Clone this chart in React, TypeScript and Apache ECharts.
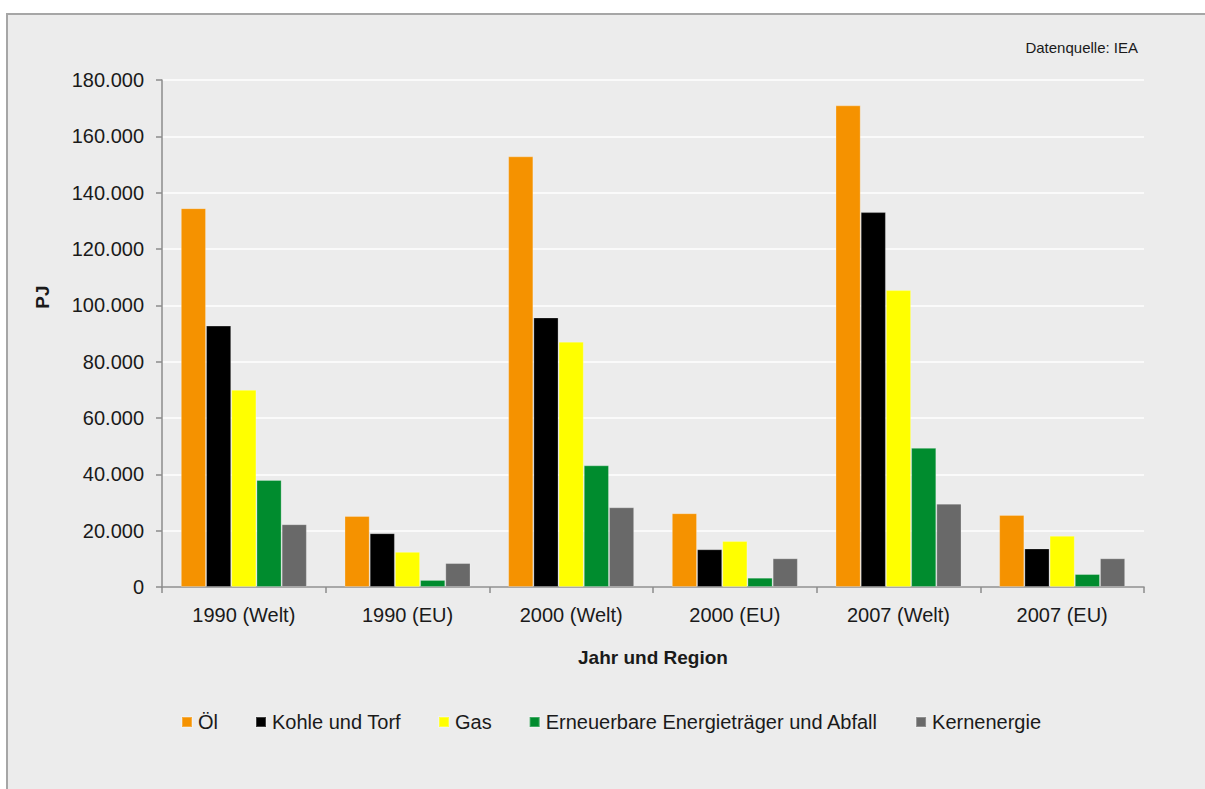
import React, { useEffect, useRef } from "react";
import * as echarts from "echarts";

const categories = ["1990 (Welt)", "1990 (EU)", "2000 (Welt)", "2000 (EU)", "2007 (Welt)", "2007 (EU)"];
const seriesNames = ["Öl", "Kohle und Torf", "Gas", "Erneuerbare Energieträger und Abfall", "Kernenergie"];
const oel = [134500, 25200, 152900, 26200, 171000, 25600];
const kohle = [92800, 19100, 95700, 13400, 133100, 13700];
const gas = [70000, 12500, 87100, 16300, 105400, 18200];
const erneuerbare = [38000, 2500, 43200, 3300, 49400, 4600];
const kern = [22300, 8500, 28300, 10200, 29600, 10200];
const colors = ["#f59200", "#000000", "#ffff00", "#008c2e", "#696969"];
const yTicks = { min: 0, max: 180000, interval: 20000 };

const fmt = (v: number) => (v === 0 ? "0" : v.toLocaleString("de-DE"));

export default function App() {
  const ref = useRef<HTMLDivElement>(null);
  useEffect(() => {
    if (!ref.current) return;
    const chart = echarts.init(ref.current, undefined, { renderer: "svg" });
    const values = [oel, kohle, gas, erneuerbare, kern];
    const font = "'Liberation Sans', Arial, sans-serif";
    chart.setOption({
      animation: false,
      backgroundColor: "transparent",
      textStyle: { fontFamily: font },
      grid: { left: 162, top: 80, right: 61, bottom: 202, containLabel: false },
      legend: {
        left: 181,
        top: 712,
        padding: 0,
        itemWidth: 10,
        itemHeight: 10,
        itemGap: 37,
        icon: "rect",
        textStyle: { fontSize: 20, color: "#1a1a1a", fontFamily: font, padding: [0, 0, 0, 1] },
        data: seriesNames,
      },
      graphic: [
        {
          type: "text",
          x: 42,
          y: 297,
          rotation: Math.PI / 2,
          style: {
            text: "PJ",
            align: "center",
            verticalAlign: "middle",
            font: `bold 19px ${font}`,
            fill: "#1a1a1a",
          },
        },
        {
          type: "text",
          right: 67,
          top: 40,
          style: {
            text: "Datenquelle: IEA",
            font: `15px ${font}`,
            fill: "#1a1a1a",
          },
        },
      ],
      xAxis: {
        type: "category",
        data: categories,
        axisLine: { lineStyle: { color: "#8c8c8c", width: 1.5 } },
        axisTick: { show: true, length: 6, lineStyle: { color: "#8c8c8c", width: 1.5 } },
        axisLabel: { fontSize: 20, color: "#1a1a1a", margin: 18 },
        name: "Jahr und Region",
        nameLocation: "middle",
        nameGap: 61,
        nameTextStyle: { fontSize: 19, fontWeight: "bold", color: "#1a1a1a" },
      },
      yAxis: {
        type: "value",
        min: yTicks.min,
        max: yTicks.max,
        interval: yTicks.interval,
        axisLine: { show: true, lineStyle: { color: "#8c8c8c", width: 1.5 } },
        axisTick: { show: true, length: 6, lineStyle: { color: "#8c8c8c", width: 1.5 } },
        axisLabel: { fontSize: 20, color: "#1a1a1a", margin: 18, formatter: fmt },
        splitLine: { show: true, lineStyle: { color: "#ffffff", width: 1.5 } },
      },
      series: seriesNames.map((name, i) => ({
        name,
        type: "bar",
        data: values[i],
        barGap: "0%",
        barCategoryGap: "23%",
        itemStyle: { color: colors[i], borderColor: "rgba(255,255,255,0.25)", borderWidth: 1 },
      })),
    });
    return () => chart.dispose();
  }, []);
  return (
    <div style={{ position: "fixed", left: 0, top: 0, width: 1205, height: 789, background: "#ffffff" }}>
      <div
        style={{
          position: "absolute",
          left: 6,
          top: 13,
          width: 1199,
          height: 776,
          background: "#ececec",
          borderLeft: "2px solid #a6a6a6",
          borderTop: "2px solid #a6a6a6",
          boxSizing: "border-box",
        }}
      />
      <div ref={ref} style={{ position: "absolute", left: 0, top: 0, width: 1205, height: 789 }} />
    </div>
  );
}
